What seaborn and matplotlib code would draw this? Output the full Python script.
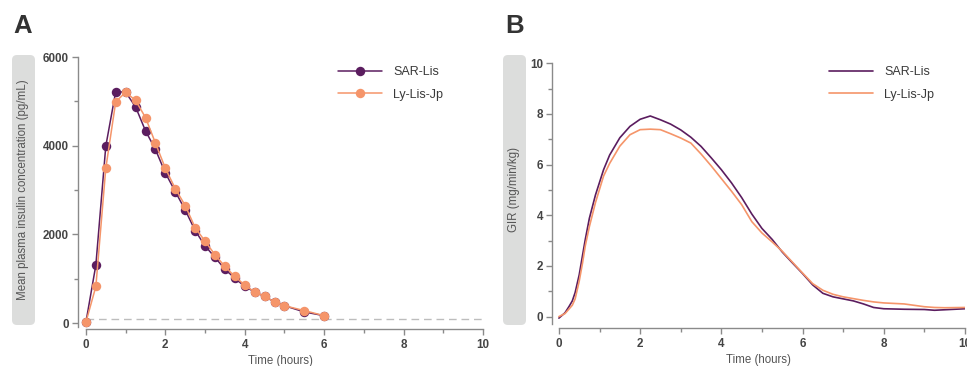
import numpy as np
import pandas as pd
import matplotlib
matplotlib.use("Agg")
import matplotlib.pyplot as plt
from matplotlib.patches import FancyBboxPatch
from matplotlib.ticker import MultipleLocator
from matplotlib.transforms import IdentityTransform
import seaborn as sns

sns.set_theme(style="white")
plt.rcParams['font.family'] = ['Liberation Sans', 'DejaVu Sans']

# ---------------- data ----------------
series_names = ["SAR-Lis", "Ly-Lis-Jp"]
colors = ["#5b1d5f", "#f5956a"]

# Panel A: PK
pk_time = [0, 0.25, 0.5, 0.75, 1.0, 1.25, 1.5, 1.75, 2.0, 2.25, 2.5, 2.75,
           3.0, 3.25, 3.5, 3.75, 4.0, 4.25, 4.5, 4.75, 5.0, 5.5, 6.0]
pk_sar = [20, 1310, 3990, 5220, 5205, 4875, 4335, 3915, 3385, 2965, 2550, 2085,
          1740, 1480, 1215, 1010, 825, 700, 600, 475, 390, 250, 165]
pk_ly = [20, 825, 3490, 4990, 5205, 5020, 4635, 4060, 3490, 3030, 2650, 2150,
         1845, 1540, 1275, 1050, 855, 700, 600, 475, 390, 280, 165]
lloq = 100

# Panel B: GIR
gir_time = [0, 0.15, 0.25, 0.33, 0.4, 0.5, 0.58, 0.65, 0.75, 0.9, 1.1, 1.25, 1.5,
            1.75, 2.0, 2.25, 2.5, 2.75, 3.0, 3.25, 3.5, 3.75, 4.0, 4.25, 4.5,
            4.75, 5.0, 5.25, 5.5, 5.75, 6.0, 6.25, 6.5, 6.75, 7.0, 7.25, 7.5,
            7.75, 8.0, 8.5, 9.0, 9.25, 9.5, 10.0]
gir_sar = [-0.06, 0.15, 0.4, 0.62, 0.95, 1.65, 2.4, 3.05, 3.88, 4.8, 5.8, 6.38,
           7.06, 7.51, 7.79, 7.92, 7.77, 7.6, 7.37, 7.08, 6.72, 6.27, 5.8, 5.28,
           4.7, 4.05, 3.48, 3.05, 2.55, 2.12, 1.7, 1.25, 0.92, 0.78, 0.7, 0.62,
           0.5, 0.36, 0.31, 0.29, 0.28, 0.25, 0.27, 0.31]
gir_ly = [0.0, 0.12, 0.3, 0.45, 0.7, 1.4, 2.1, 2.8, 3.55, 4.5, 5.55, 6.05, 6.73,
          7.18, 7.38, 7.4, 7.38, 7.22, 7.05, 6.85, 6.42, 5.95, 5.45, 4.95, 4.42,
          3.75, 3.3, 2.95, 2.58, 2.15, 1.72, 1.3, 1.04, 0.88, 0.78, 0.71, 0.64,
          0.58, 0.54, 0.5, 0.39, 0.36, 0.35, 0.36]

xlabel_text = "Time (hours)"
ylabel_a = "Mean plasma insulin concentration (pg/mL)"
ylabel_b = "GIR (mg/min/kg)"

# ---------------- figure ----------------
W, H = 967, 366
fig = plt.figure(figsize=(W / 100, H / 100), dpi=100)


def ax_rect(l, r, t, b):
    return [l / W, 1 - b / H, (r - l) / W, (b - t) / H]


axA = fig.add_axes(ax_rect(78, 483, 57, 329))
axB = fig.add_axes(ax_rect(552, 965, 63.3, 328))

pk_df = pd.DataFrame({"t": pk_time * 2, "v": pk_sar + pk_ly,
                      "s": [series_names[0]] * len(pk_time) + [series_names[1]] * len(pk_time)})
gir_df = pd.DataFrame({"t": gir_time * 2, "v": gir_sar + gir_ly,
                       "s": [series_names[0]] * len(gir_time) + [series_names[1]] * len(gir_time)})

for name, col in zip(series_names, colors):
    sub = pk_df[pk_df.s == name]
    sns.lineplot(data=sub, x="t", y="v", ax=axA, color=col, marker="o",
                 markersize=6.8, markeredgewidth=0, linewidth=1.1, label=name)
axA.hlines(lloq, 0, 10, colors="#bdbdbd", linestyles=(0, (5.5, 3.5)), linewidth=1, zorder=0)

for name, col in zip(series_names, colors):
    sub = gir_df[gir_df.s == name]
    sns.lineplot(data=sub, x="t", y="v", ax=axB, color=col, linewidth=1.2, label=name)

spine_col = "#8a8a8a"
tick_col = "#444444"

axA.set_xlim(-0.2, 10)
axA.set_ylim(-135, 6000)
axB.set_xlim(-0.17, 10)
axB.set_ylim(-0.45, 10)

for ax in (axA, axB):
    sns.despine(ax=ax)
    ax.spines['left'].set_color(spine_col)
    ax.spines['bottom'].set_color(spine_col)
    ax.spines['left'].set_linewidth(1.0)
    ax.spines['bottom'].set_linewidth(1.0)
    ax.spines['bottom'].set_bounds(0, 10)
    ax.xaxis.set_major_locator(MultipleLocator(2))
    ax.xaxis.set_minor_locator(MultipleLocator(1))
    ax.tick_params(which='major', direction='out', length=4, width=1, color=spine_col,
                   labelcolor=tick_col, labelsize=8.4, bottom=True, left=True)
    ax.tick_params(which='minor', direction='out', length=3, width=1, color=spine_col,
                   bottom=True, left=True)
    ax.tick_params(axis='x', pad=3)
    ax.tick_params(axis='y', pad=2.5)
    ax.set_xlabel(xlabel_text, color="#555555", fontsize=8.3, labelpad=3)
    ax.set_ylabel("")
    ax.set_facecolor("none")

axA.spines['left'].set_bounds(-90, 6000)
axA.yaxis.set_major_locator(MultipleLocator(2000))
axA.yaxis.set_minor_locator(MultipleLocator(1000))
axB.spines['left'].set_bounds(-0.3, 10)
axB.yaxis.set_major_locator(MultipleLocator(2))
axB.yaxis.set_minor_locator(MultipleLocator(1))
for ax in (axA, axB):
    for lbl in ax.get_xticklabels() + ax.get_yticklabels():
        lbl.set_fontweight('bold')

# legends
for ax, x0 in ((axA, 338), (axB, 829)):
    leg = ax.legend(loc="upper left", bbox_to_anchor=(x0 / W, 1 - 66 / H),
                    bbox_transform=fig.transFigure, frameon=False, fontsize=9,
                    handlelength=3.5, handletextpad=0.9, labelspacing=0.85,
                    borderpad=0, borderaxespad=0)
    for t in leg.get_texts():
        t.set_color("#3a3a3a")

# grey label boxes (pixel coordinates, origin bottom-left)
for x0 in (12, 503):
    box = FancyBboxPatch((x0, H - 325), 23, 270,
                         boxstyle="round,pad=0,rounding_size=5",
                         transform=IdentityTransform(), facecolor="#dcdddc",
                         edgecolor="none", zorder=0)
    fig.patches.append(box)

fig.text(23.5 / W, 1 - 190 / H, ylabel_a, rotation=90, ha="center", va="center",
         color="#555555", fontsize=8.3)
fig.text(514.5 / W, 1 - 190 / H, ylabel_b, rotation=90, ha="center", va="center",
         color="#555555", fontsize=8.3)

# panel letters
fig.text(13 / W, 1 - 33 / H, "A", fontsize=18.5, fontweight="bold", color="#333333",
         ha="left", va="baseline")
fig.text(505 / W, 1 - 33 / H, "B", fontsize=18.5, fontweight="bold", color="#333333",
         ha="left", va="baseline")

fig.savefig("out.png", dpi=100)
